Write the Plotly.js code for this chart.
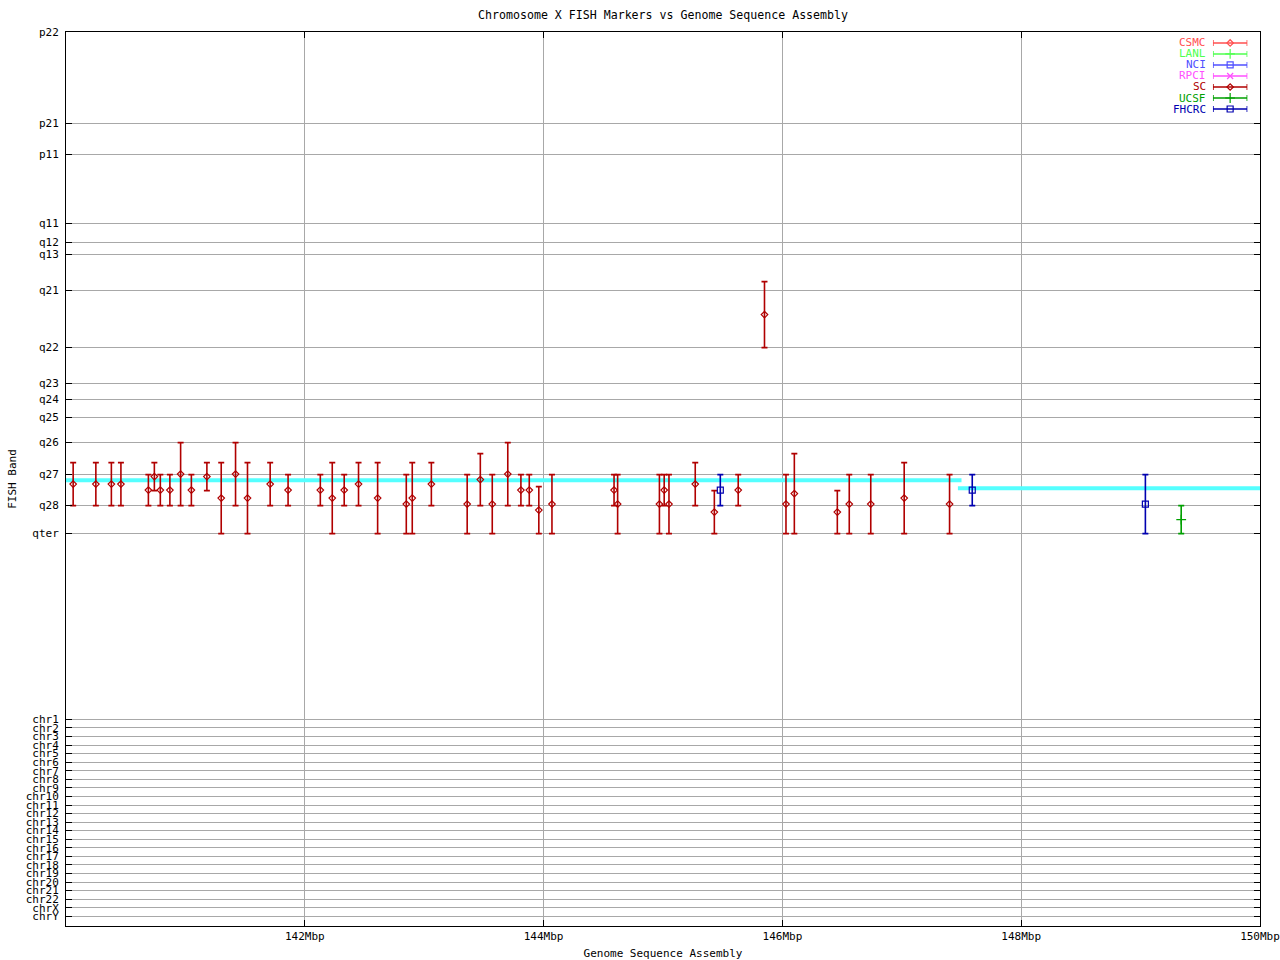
<!DOCTYPE html>
<html>
<head>
<meta charset="utf-8">
<script src="https://cdn.plot.ly/plotly-3.0.1.min.js"></script>
<style>html,body{margin:0;padding:0;background:#fff;}#chart{width:1280px;height:960px;}</style>
</head>
<body>
<div id="chart"></div>
<script>
// Band tick positions (arbitrary band-scale units, increasing downward)
const bandNames = ['p22','p21','p11','q11','q12','q13','q21','q22','q23','q24','q25','q26','q27','q28','qter'];
const bandPos   = [0, 91.6, 122.6, 191.3, 210.6, 222.3, 258.3, 315.6, 351.6, 367.3, 385.0, 410.6, 442.6, 473.6, 501.6];
const chrNames  = ['chr1','chr2','chr3','chr4','chr5','chr6','chr7','chr8','chr9','chr10','chr11','chr12','chr13','chr14','chr15','chr16','chr17','chr18','chr19','chr20','chr21','chr22','chrX','chrY'];
const chrPos    = [687.3,695.9,704.4,713.0,721.6,730.1,738.7,747.3,755.8,764.4,773.0,781.5,790.1,798.6,807.2,815.8,824.3,832.9,841.5,850.0,858.6,867.2,875.7,884.3];

// x ticks (Mbp)
const xTickVals = [142, 144, 146, 148, 150];
const xTickText = ['142Mbp','144Mbp','146Mbp','148Mbp','150Mbp'];

// Sequence assembly line (two segments)
const asmX1 = [140.0, 147.50];
const asmY1 = [448.3, 448.3];
const asmX2 = [147.47, 150.0];
const asmY2 = [456.3, 456.3];

// SC markers
const scX = [140.06,140.25,140.38,140.46,140.69,140.74,140.79,140.87,140.96,141.05,141.18,141.30,141.42,141.52,141.71,141.86,
             142.13,142.23,142.33,142.45,142.61,142.85,142.90,143.06,143.36,143.47,143.57,143.70,143.81,143.88,143.96,144.07,
             144.59,144.62,144.97,145.01,145.05,145.27,145.43,145.63,145.85,146.03,146.10,146.46,146.56,146.74,147.02,147.40];
const scY = [452.1,452.1,452.1,452.1,458.1,444.6,458.1,458.1,442.1,458.1,444.6,466.1,442.1,466.1,452.1,458.1,
             458.1,466.1,458.1,452.1,466.1,472.1,466.1,452.1,472.1,447.6,472.1,442.1,458.1,458.1,478.1,472.1,
             458.1,472.1,472.1,458.1,472.1,452.1,480.1,458.1,282.6,472.1,461.6,480.1,472.1,472.1,466.1,472.1];
const scTop = [430.6,430.6,430.6,430.6,442.6,430.6,442.6,442.6,410.6,442.6,430.6,430.6,410.6,430.6,430.6,442.6,
               442.6,430.6,442.6,430.6,430.6,442.6,430.6,430.6,442.6,421.6,442.6,410.6,442.6,442.6,454.6,442.6,
               442.6,442.6,442.6,442.6,442.6,430.6,458.6,442.6,249.6,442.6,421.6,458.6,442.6,442.6,430.6,442.6];
const scBot = [473.6,473.6,473.6,473.6,473.6,458.6,473.6,473.6,473.6,473.6,458.6,501.6,473.6,501.6,473.6,473.6,
               473.6,501.6,473.6,473.6,501.6,501.6,501.6,473.6,501.6,473.6,501.6,473.6,473.6,473.6,501.6,501.6,
               473.6,501.6,501.6,473.6,501.6,473.6,501.6,473.6,315.6,501.6,501.6,501.6,501.6,501.6,501.6,501.6];

// FHCRC markers
const fhX = [145.48, 147.59, 149.04];
const fhY = [458.1, 458.1, 472.1];
const fhTop = [442.6, 442.6, 442.6];
const fhBot = [473.6, 473.6, 501.6];

// UCSF markers
const ucX = [149.34];
const ucY = [487.6];
const ucTop = [473.6];
const ucBot = [501.6];

// Legend
const legNames  = ['CSMC','LANL','NCI','RPCI','SC','UCSF','FHCRC'];
const legColors = ['#ff5050','#50ff50','#5050ff','#ff50ff','#b00000','#00a000','#0000b0'];
const legSymbols= ['diamond-open','cross-thin-open','square-open','x-thin-open','diamond-open','cross-thin-open','square-open'];
const legSizes  = [5,7,6,6,5,7,6];

const FONT = 'DejaVu Sans Mono, monospace';

function errTrace(x, y, top, bot, color, symbol, size) {
  return {
    type: 'scatter', mode: 'markers', x: x, y: y, showlegend: false, hoverinfo: 'skip',
    marker: {symbol: symbol, size: size, color: color, line: {color: color, width: 1.2}},
    error_y: {type: 'data', symmetric: false,
      array: bot.map((b, i) => b - y[i]),
      arrayminus: top.map((t, i) => y[i] - t),
      color: color, thickness: 1.6, width: 3, visible: true},
    xaxis: 'x', yaxis: 'y'
  };
}

const traces = [
  {type:'scatter', mode:'lines', x: asmX1, y: asmY1, line:{color:'#55ffff', width:4}, showlegend:false, hoverinfo:'skip'},
  {type:'scatter', mode:'lines', x: asmX2, y: asmY2, line:{color:'#55ffff', width:4}, showlegend:false, hoverinfo:'skip'},
  errTrace(scX, scY, scTop, scBot, '#b00000', 'diamond-open', 5),
  errTrace(fhX, fhY, fhTop, fhBot, '#0000b0', 'square-open', 6),
  errTrace(ucX, ucY, ucTop, ucBot, '#00a000', 'cross-thin-open', 7)
];

// legend geometry (paper fractions)
const LEG_TOP = 0.9939, LEG_BOT = 0.9077, LEG_X0 = 0.9606, LEG_X1 = 0.9894;
const annotations = [];
legNames.forEach((n, i) => {
  traces.push({
    type:'scatter', mode:'markers', x:[0.5], y:[i], xaxis:'x2', yaxis:'y2', showlegend:false, hoverinfo:'skip',
    marker:{symbol: legSymbols[i], size: legSizes[i], color: legColors[i], line:{color: legColors[i], width:1.2}},
    error_x:{type:'data', array:[0.5], color: legColors[i], thickness:1.6, width:3, visible:true}
  });
  annotations.push({xref:'paper', yref:'paper', x: LEG_X0 - 0.004,
    y: LEG_TOP - (i + 0.5) * (LEG_TOP - LEG_BOT) / 7,
    text:n, showarrow:false, xanchor:'right', yanchor:'middle',
    font:{family:FONT, size:11, color:legColors[i]}});
});

const layout = {
  width: 1280, height: 960,
  margin: {l: 66, r: 20, t: 32, b: 34, pad: 0},
  paper_bgcolor: '#ffffff', plot_bgcolor: '#ffffff',
  font: {family: FONT, size: 11, color: '#000'},
  title: {text: 'Chromosome X FISH Markers vs Genome Sequence Assembly', x: 0.518, xanchor: 'center',
          y: 0.984, yanchor: 'middle', font: {family: FONT, size: 11.6, color: '#000'}},
  xaxis: {
    range: [140, 150], tickvals: xTickVals, ticktext: xTickText,
    showgrid: true, gridcolor: '#a8a8a8', gridwidth: 1, zeroline: false,
    showline: true, linecolor: '#000', linewidth: 1, mirror: 'ticks',
    ticks: 'inside', ticklen: 6, tickcolor: '#000',
    tickfont: {family: FONT, size: 11, color: '#000'},
    title: {text: 'Genome Sequence Assembly', font: {family: FONT, size: 11, color: '#000'}, standoff: 8},
    automargin: false
  },
  yaxis: {
    range: [894, 0], tickvals: bandPos.concat(chrPos), ticktext: bandNames.concat(chrNames),
    showgrid: true, gridcolor: '#a8a8a8', gridwidth: 1, zeroline: false,
    showline: true, linecolor: '#000', linewidth: 1, mirror: 'ticks',
    ticks: 'inside', ticklen: 6, tickcolor: '#000', ticklabelstandoff: 4,
    tickfont: {family: FONT, size: 11, color: '#000'},
    title: {text: 'FISH Band', font: {family: FONT, size: 11, color: '#000'}, standoff: 6},
    automargin: false
  },
  xaxis2: {domain: [LEG_X0, LEG_X1], range: [0, 1], visible: false, anchor: 'y2', fixedrange: true},
  yaxis2: {domain: [LEG_BOT, LEG_TOP], range: [6.5, -0.5], visible: false, anchor: 'x2', fixedrange: true},
  annotations: annotations,
  showlegend: false
};

Plotly.newPlot('chart', traces, layout, {displayModeBar: false, staticPlot: true});
</script>
</body>
</html>
